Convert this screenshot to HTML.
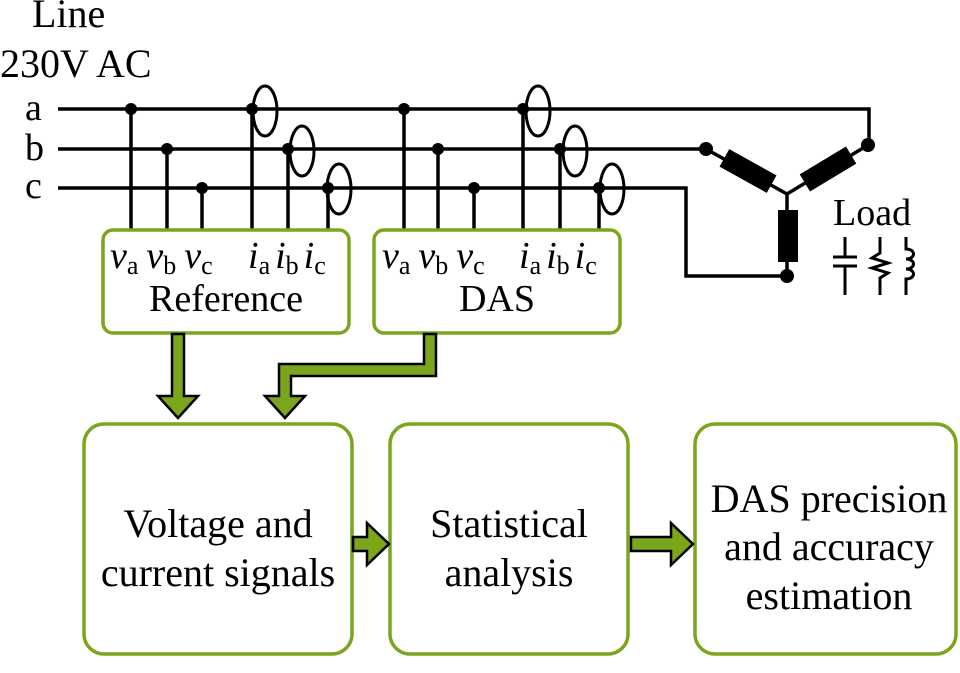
<!DOCTYPE html>
<html><head><meta charset="utf-8"><style>
html,body{margin:0;padding:0;background:#fff}
svg{display:block}
text{font-family:"Liberation Serif",serif;fill:#000}
</style></head><body>
<svg width="960" height="673" viewBox="0 0 960 673" xmlns="http://www.w3.org/2000/svg">
<g font-size="40">
<text x="32" y="27">Line</text>
<text x="0" y="77">230V AC</text>
</g>
<g font-size="38">
<text x="25" y="120">a</text>
<text x="25" y="160">b</text>
<text x="25" y="198">c</text>
</g>
<g stroke="#000" stroke-width="3.5" fill="none">
<path d="M58 109H869V145"/>
<path d="M58 149H706"/>
<path d="M58 188H686V276H787"/>
<path d="M131 109V229M167 149V229M202 188V229M252 109V229M288 149V229M328 188V229"/>
<path d="M404 109V229M438 149V229M474 188V229M523 109V229M560 149V229M599 188V229"/>
<path d="M706 149L787 194L868 145M787 194V276"/>
</g>
<g stroke="#000" stroke-width="3" fill="none">
<ellipse cx="265" cy="111" rx="12" ry="25"/>
<ellipse cx="302" cy="151" rx="12" ry="25"/>
<ellipse cx="339" cy="189" rx="12" ry="25"/>
<ellipse cx="538" cy="111" rx="12" ry="25"/>
<ellipse cx="575" cy="151" rx="12" ry="25"/>
<ellipse cx="612" cy="189" rx="12" ry="25"/>
</g>
<g fill="#000">
<circle cx="131" cy="109" r="6"/><circle cx="167" cy="149" r="6"/><circle cx="202" cy="188" r="6"/>
<circle cx="252" cy="109" r="6"/><circle cx="288" cy="149" r="6"/><circle cx="328" cy="188" r="6"/>
<circle cx="404" cy="109" r="6"/><circle cx="438" cy="149" r="6"/><circle cx="474" cy="188" r="6"/>
<circle cx="523" cy="109" r="6"/><circle cx="560" cy="149" r="6"/><circle cx="599" cy="188" r="6"/>
<circle cx="706" cy="149" r="7"/><circle cx="868" cy="145" r="7"/><circle cx="787" cy="276" r="7"/>
<rect x="778" y="210" width="20" height="52"/>
<rect x="721" y="161" width="54" height="20" transform="rotate(29 748 171)"/>
<rect x="801" y="159" width="54" height="20" transform="rotate(-31 828 169)"/>
</g>
<text x="833" y="225" font-size="38">Load</text>
<g stroke="#000" stroke-width="3" fill="none">
<path d="M845 237V257M833 257H857M833 266H857M845 266V295"/>
<path d="M880 237V253L872 258L888 263L872 268L888 273L880 278V295"/>
<path d="M906 237V249C916 249 916 259 906 259C916 259 916 269 906 269C916 269 916 279 906 279V295"/>
</g>
<g fill="#fff" stroke="#7aa51c" stroke-width="3.5">
<rect x="103" y="230" width="246" height="103" rx="10"/>
<rect x="374" y="230" width="246" height="103" rx="10"/>
<rect x="84" y="424" width="268" height="230" rx="20"/>
<rect x="390" y="424" width="238" height="230" rx="20"/>
<rect x="695" y="424" width="261" height="230" rx="20"/>
</g>
<g font-size="38">
<text x="110" y="268"><tspan font-style="italic">v</tspan><tspan font-size="26" dy="6">a</tspan><tspan dy="-6" dx="8" font-style="italic">v</tspan><tspan font-size="26" dy="6">b</tspan><tspan dy="-6" dx="8" font-style="italic">v</tspan><tspan font-size="26" dy="6">c</tspan></text>
<text x="248" y="268"><tspan font-style="italic">i</tspan><tspan font-size="26" dy="6">a</tspan><tspan dy="-6" dx="5" font-style="italic">i</tspan><tspan font-size="26" dy="6">b</tspan><tspan dy="-6" dx="5" font-style="italic">i</tspan><tspan font-size="26" dy="6">c</tspan></text>
<text x="382" y="268"><tspan font-style="italic">v</tspan><tspan font-size="26" dy="6">a</tspan><tspan dy="-6" dx="8" font-style="italic">v</tspan><tspan font-size="26" dy="6">b</tspan><tspan dy="-6" dx="8" font-style="italic">v</tspan><tspan font-size="26" dy="6">c</tspan></text>
<text x="519" y="268"><tspan font-style="italic">i</tspan><tspan font-size="26" dy="6">a</tspan><tspan dy="-6" dx="5" font-style="italic">i</tspan><tspan font-size="26" dy="6">b</tspan><tspan dy="-6" dx="5" font-style="italic">i</tspan><tspan font-size="26" dy="6">c</tspan></text>
<text x="226" y="311" text-anchor="middle">Reference</text>
<text x="497" y="311" text-anchor="middle">DAS</text>
</g>
<g font-size="40" text-anchor="middle">
<text x="218" y="537">Voltage and</text>
<text x="218" y="586">current signals</text>
<text x="509" y="537">Statistical</text>
<text x="509" y="586">analysis</text>
<text x="829" y="512">DAS precision</text>
<text x="829" y="560">and accuracy</text>
<text x="829" y="609">estimation</text>
</g>
<g fill="#7aa51c" stroke="#000" stroke-width="2.5" stroke-linejoin="miter">
<path d="M172 334H184V396H198L178 418L158 396H172Z"/>
<path d="M424 334H436V376H291V396H305L285 418L265 396H279V364H424Z"/>
<path d="M353 537H367V523L389 544L367 565V551H353Z"/>
<path d="M631 537H671V523L693 544L671 565V551H631Z"/>
</g>
</svg>
</body></html>
